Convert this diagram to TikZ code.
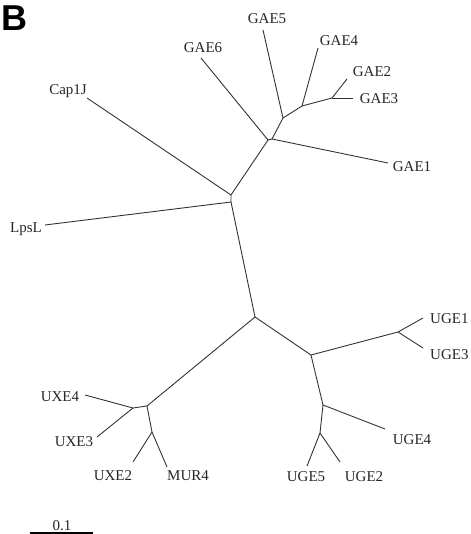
\documentclass[tikz,border=0pt]{standalone}
\usepackage{fontspec}
\setmainfont{Liberation Serif}
\newfontfamily\panelfont{Liberation Sans}
\begin{document}
\begin{tikzpicture}[x=1pt,y=-1pt,
  br/.style={line width=0.9pt, draw=black!80},
  lab/.style={font=\fontsize{15}{15}\selectfont, inner sep=0pt, anchor=base, text=black!85}]
\useasboundingbox (0,0) rectangle (470,534);
% internal points
\coordinate (A1) at (231,195);
\coordinate (A2) at (231,202);
\coordinate (B) at (255,317);
\coordinate (G1) at (268,140);
\coordinate (G1b) at (272,139);
\coordinate (G2) at (283,118);
\coordinate (G3) at (302,106);
\coordinate (G4) at (332,98);
\coordinate (U1) at (147,406);
\coordinate (U2) at (133,408);
\coordinate (U3) at (152,432);
\coordinate (C) at (311,355);
\coordinate (D) at (398,332);
\coordinate (E) at (323,405);
\coordinate (F) at (320,433);
% leaf ends
\coordinate (cap) at (87,98);
\coordinate (lps) at (45,225);
\coordinate (gae6) at (201,58);
\coordinate (gae5) at (263,30);
\coordinate (gae4) at (318,48);
\coordinate (gae2) at (347,79);
\coordinate (gae3) at (353,98);
\coordinate (gae1) at (388,163);
\coordinate (uge1) at (423,318);
\coordinate (uge3) at (423,348);
\coordinate (uge4) at (385,429);
\coordinate (uge5) at (307,466);
\coordinate (uge2) at (340,462);
\coordinate (uxe4) at (85,395);
\coordinate (uxe3) at (97,437);
\coordinate (uxe2) at (133,462);
\coordinate (mur4) at (167,467);
% labels
\node[lab] (tCap) at (68,95) {Cap1J};
\node[lab] (tLps) at (26,233) {LpsL};
\node[lab] (tG6) at (203,53) {GAE6};
\node[lab] (tG5) at (267,24) {GAE5};
\node[lab] (tG4) at (339,46) {GAE4};
\node[lab] (tG2) at (372,77) {GAE2};
\node[lab] (tG3) at (379,104) {GAE3};
\node[lab] (tG1) at (412,172) {GAE1};
\node[lab, anchor=base west] (tU1) at (430,323) {UGE1};
\node[lab, anchor=base west] (tU3) at (430,359) {UGE3};
\node[lab] (tU4) at (412,444) {UGE4};
\node[lab] (tU5) at (306,481) {UGE5};
\node[lab] (tU2) at (364,481) {UGE2};
\node[lab] (tX4) at (60,401) {UXE4};
\node[lab] (tX3) at (74,446) {UXE3};
\node[lab] (tX2) at (113,480) {UXE2};
\node[lab] (tM4) at (188,480) {MUR4};
\node[lab] (tScale) at (62,530) {0.1};
\node[font=\panelfont\bfseries\fontsize{36}{36}\selectfont, anchor=base west, inner sep=0pt] (panel) at (1,31) {B};
% scale bar
\coordinate (s0) at (30,533);
\coordinate (s1) at (93,533);
\draw[line width=2pt] (s0) -- (s1);
% branches
\draw[br] (cap) -- (A1) -- (A2) -- (lps);
\draw[br] (A2) -- (B);
\draw[br] (A1) -- (G1) -- (gae6);
\draw[br] (G1) -- (G1b) -- (gae1);
\draw[br] (G1b) -- (G2) -- (gae5);
\draw[br] (G2) -- (G3) -- (gae4);
\draw[br] (G3) -- (G4) -- (gae2);
\draw[br] (G4) -- (gae3);
\draw[br] (B) -- (U1) -- (U2) -- (uxe4);
\draw[br] (U2) -- (uxe3);
\draw[br] (U1) -- (U3) -- (uxe2);
\draw[br] (U3) -- (mur4);
\draw[br] (B) -- (C) -- (D) -- (uge1);
\draw[br] (D) -- (uge3);
\draw[br] (C) -- (E) -- (uge4);
\draw[br] (E) -- (F) -- (uge5);
\draw[br] (F) -- (uge2);
\end{tikzpicture}
\end{document}
